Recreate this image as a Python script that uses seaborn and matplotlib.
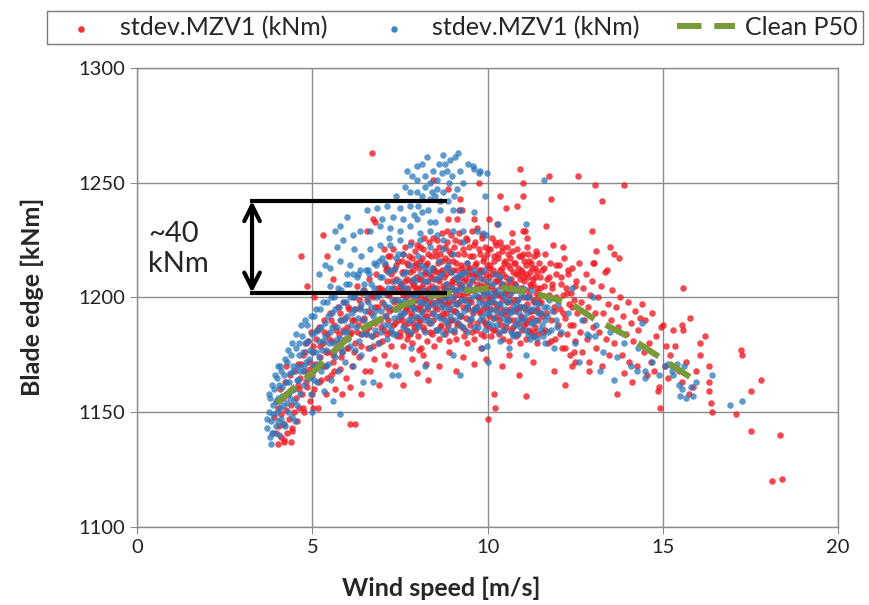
import numpy as np
import pandas as pd
import matplotlib
matplotlib.use('Agg')
import matplotlib.pyplot as plt
import seaborn as sns

# wind speed [m/s], blade edge [kNm]
red_low = [(3.92,1148),(3.95,1141),(3.98,1155),(4.02,1152),(4.05,1144),(4.08,1160),(4.1,1139),(4.12,1149),
           (4.15,1156),(4.18,1137),(4.2,1145),(4.22,1163),(4.25,1151),(4.28,1141),(4.3,1158),(4.33,1147),
           (4.36,1166),(4.38,1153),(4.41,1143),(4.44,1160),(4.47,1150),(4.5,1168),(4.52,1156),(4.55,1146),
           (4.58,1162),(4.6,1171),(4.03,1136),(4.26,1170),(4.4,1137),(4.62,1152),(4.42,1142),(4.2,1138)]

red_rise = [(4.65,1165),(4.7,1158),(4.73,1175),(4.76,1150),(4.8,1168),(4.83,1180),(4.86,1161),(4.9,1172),
            (4.93,1155),(4.96,1185),(5.0,1166),(5.03,1176),(5.06,1160),(5.1,1182),(5.13,1170),(5.16,1152),
            (5.2,1187),(5.23,1174),(5.26,1164),(5.3,1180),(5.33,1190),(5.36,1170),(5.4,1158),(5.43,1184),
            (5.46,1176),(5.5,1193),(5.53,1166),(5.56,1181),(5.6,1172),(5.63,1188),(5.66,1160),(5.7,1178),
            (5.73,1196),(5.76,1184),(5.8,1169),(5.83,1190),(5.86,1176),(5.9,1198),(5.93,1182),(5.96,1165),
            (6.0,1187),(6.03,1178),(6.06,1195),(6.1,1185),(6.13,1170),(6.16,1200),(6.2,1190),(6.23,1180),
            (6.26,1205),(6.3,1188),(6.33,1174),(6.36,1196),(6.4,1184),(6.43,1202),(6.46,1191),(6.5,1168),
            (6.53,1186),(6.56,1199),(6.6,1178),(6.63,1208),(6.66,1193),(6.7,1183),(6.73,1200),(6.76,1173),
            (6.8,1189),(6.83,1210),(6.86,1196),(6.9,1180),(6.93,1204),(6.96,1187),(7.0,1198),(7.03,1175),
            (7.06,1192),(7.1,1212),(7.13,1184),(7.16,1201),(7.2,1194),(7.23,1179),(7.26,1207),(7.3,1188),
            (7.33,1198),(7.36,1170),(7.4,1214),(7.43,1190),(7.46,1203),(7.5,1183),
            (4.62,1160),(4.67,1171),(4.72,1152),(4.78,1176),(4.82,1163),(4.88,1181),(4.92,1169),(4.98,1158),
            (5.02,1179),(5.08,1171),(5.12,1186),(5.18,1163),(5.22,1179),(5.28,1170),(5.32,1185),(5.38,1176),
            (5.42,1165),(5.48,1182),(5.52,1190),(5.58,1175),(5.62,1168),(5.68,1186),(5.72,1180),(5.78,1193),
            (5.82,1174),(5.88,1186),(5.92,1191),(5.98,1178),(6.02,1196),(6.08,1184),(6.12,1190),(6.18,1176),
            (6.22,1195),(6.28,1185),(6.32,1199),(6.38,1179),(6.42,1190),(6.48,1203),(6.52,1184),(6.58,1194),
            (6.62,1187),(6.68,1201),(6.72,1179),(6.78,1196),(6.82,1184),(6.88,1204),(6.92,1190),(6.98,1181)]

red_core = [(7.51,1185),(7.52,1206),(7.54,1197),(7.55,1216),(7.57,1190),(7.58,1179),(7.6,1203),(7.61,1211),
            (7.63,1194),(7.64,1222),(7.66,1186),(7.67,1200),(7.69,1208),(7.7,1182),(7.71,1195),(7.72,1214),
            (7.73,1189),(7.74,1204),(7.76,1197),(7.77,1218),(7.78,1184),(7.8,1207),(7.81,1192),(7.82,1224),
            (7.84,1201),(7.85,1180),(7.86,1212),(7.88,1189),(7.89,1205),(7.9,1196),(7.92,1220),(7.93,1186),
            (7.95,1209),(7.96,1199),(7.97,1215),(7.99,1191),(8.01,1204),(8.02,1183),(8.03,1213),(8.05,1196),
            (8.06,1222),(8.07,1190),(8.09,1208),(8.1,1200),(8.11,1178),(8.13,1217),(8.14,1194),(8.16,1206),
            (8.17,1187),(8.18,1226),(8.2,1199),(8.21,1211),(8.22,1192),(8.24,1203),(8.26,1215),(8.27,1195),
            (8.28,1181),(8.3,1207),(8.31,1200),(8.33,1224),(8.34,1189),(8.35,1210),(8.37,1197),(8.38,1218),
            (8.4,1184),(8.41,1205),(8.42,1193),(8.44,1213),(8.45,1201),(8.46,1179),(8.48,1208),(8.49,1220),
            (8.51,1196),(8.52,1211),(8.54,1186),(8.55,1204),(8.56,1225),(8.58,1199),(8.59,1215),(8.6,1182),
            (8.62,1207),(8.63,1192),(8.65,1219),(8.66,1202),(8.67,1188),(8.69,1212),(8.7,1197),(8.71,1228),
            (8.73,1205),(8.74,1191),(8.76,1209),(8.77,1184),(8.79,1217),(8.8,1200),(8.81,1193),(8.83,1224),
            (8.84,1206),(8.86,1188),(8.87,1213),(8.88,1198),(8.9,1181),(8.91,1220),(8.92,1203),(8.94,1195),
            (8.95,1211),(8.96,1227),(8.98,1190),(8.99,1207),(9.01,1199),(9.02,1216),(9.04,1185),(9.05,1208),
            (9.06,1194),(9.08,1225),(9.09,1203),(9.1,1182),(9.12,1212),(9.13,1197),(9.15,1219),(9.16,1189),
            (9.17,1206),(9.19,1228),(9.2,1201),(9.21,1192),(9.23,1214),(9.24,1209),(9.26,1187),(9.27,1204),
            (9.29,1221),(9.3,1196),(9.31,1211),(9.33,1183),(9.34,1207),(9.35,1199),(9.37,1226),(9.38,1191),
            (9.4,1215),(9.41,1202),(9.42,1180),(9.44,1210),(9.45,1195),(9.46,1222),(9.48,1205),(9.49,1188),
            (9.51,1213),(9.52,1198),(9.54,1229),(9.55,1185),(9.56,1207),(9.58,1193),(9.59,1218),(9.6,1203),
            (9.62,1182),(9.63,1224),(9.65,1210),(9.66,1196),(9.67,1215),(9.69,1189),(9.7,1206),(9.71,1230),
            (9.73,1200),(9.74,1212),(9.76,1194),(9.77,1219),(9.79,1205),(9.8,1184),(9.81,1211),(9.83,1199),
            (9.84,1226),(9.86,1190),(9.87,1208),(9.88,1216),(9.9,1202),(9.91,1183),(9.92,1222),(9.94,1196),
            (9.95,1210),(9.96,1188),(9.98,1204),(9.99,1214),(10.01,1200),(10.02,1221),(10.04,1187),(10.05,1209),
            (10.06,1195),(10.08,1214),(10.09,1183),(10.1,1205),(10.12,1226),(10.13,1198),(10.15,1191),(10.16,1212),
            (10.17,1203),(10.19,1218),(10.2,1186),(10.21,1207),(10.23,1197),(10.24,1223),(10.26,1210),(10.27,1192),
            (10.29,1217),(10.3,1201),(10.31,1184),(10.33,1208),(10.34,1224),(10.35,1196),(10.37,1205),(10.38,1188),
            (10.4,1213),(10.41,1199),(10.42,1220),(10.44,1182),(10.45,1206),(10.46,1194),(10.48,1215),(10.49,1202),
            (10.51,1187),(10.52,1209),(10.54,1198),(10.55,1222),(10.56,1192),(10.58,1205),(10.59,1214),(10.6,1181),
            (10.62,1201),(10.63,1217),(10.65,1195),(10.66,1208),(10.67,1186),(10.69,1224),(10.7,1203),(10.71,1190),
            (10.73,1211),(10.74,1199),(10.76,1215),(10.77,1194),(10.79,1206),(10.8,1183),(10.81,1210),(10.83,1199),
            (10.84,1221),(10.86,1189),(10.87,1203),(10.88,1213),(10.9,1196),(10.91,1180),(10.92,1208),(10.94,1218),
            (10.95,1192),(10.96,1204),(10.98,1186),(10.99,1211),(11.01,1200),(11.02,1219),(11.04,1188),(11.05,1207),
            (11.06,1195),(11.08,1214),(11.09,1182),(11.1,1203),(11.12,1222),(11.13,1197),(11.15,1209),(11.16,1190),
            (11.17,1216),(11.19,1201),(11.2,1185),(11.21,1211),(11.23,1194),(11.24,1205),(11.26,1213),(11.27,1191),
            (11.29,1206),(11.3,1183),(11.31,1218),(11.33,1198),(11.34,1209),(11.35,1187),(11.37,1202),(11.38,1220),
            (11.4,1195),(11.41,1180),(11.42,1211),(11.44,1200),(11.45,1190),(11.46,1215),(11.48,1204),(11.49,1193)]

red_core2 = [(7.02,1203),(7.05,1186),(7.07,1214),(7.1,1196),(7.12,1207),(7.15,1190),(7.17,1218),(7.2,1201),
             (7.22,1185),(7.25,1210),(7.27,1195),(7.3,1221),(7.32,1204),(7.35,1189),(7.37,1199),(7.4,1208),
             (7.42,1183),(7.45,1216),(7.47,1196),(7.5,1205),(7.53,1192),(7.55,1211),(7.58,1201),(7.6,1219),
             (7.62,1188),(7.65,1207),(7.68,1196),(7.7,1215),(7.73,1184),(7.75,1202),(7.78,1211),(7.8,1193),
             (7.83,1217),(7.85,1198),(7.87,1206),(7.9,1187),(7.93,1214),(7.95,1203),(7.98,1223),(8.0,1195),
             (8.03,1208),(8.05,1189),(8.08,1216),(8.1,1204),(8.12,1197),(8.15,1221),(8.18,1186),(8.2,1210),
             (8.23,1199),(8.25,1214),(8.28,1192),(8.3,1219),(8.33,1204),(8.35,1185),(8.38,1209),(8.4,1198),
             (8.43,1226),(8.45,1190),(8.47,1212),(8.5,1203),(8.53,1218),(8.55,1195),(8.58,1208),(8.6,1222),
             (8.63,1187),(8.65,1211),(8.68,1199),(8.7,1216),(8.72,1193),(8.75,1204),(8.78,1222),(8.8,1186),
             (8.82,1210),(8.85,1197),(8.88,1216),(8.9,1203),(8.93,1190),(8.95,1219),(8.97,1206),(9.0,1212),
             (9.03,1194),(9.05,1222),(9.08,1201),(9.1,1215),(9.12,1188),(9.15,1209),(9.18,1198),(9.2,1224),
             (9.23,1205),(9.25,1192),(9.28,1213),(9.3,1201),(9.32,1219),(9.35,1186),(9.38,1208),(9.4,1196),
             (9.42,1225),(9.45,1213),(9.47,1199),(9.5,1218),(9.53,1190),(9.55,1210),(9.58,1203),(9.6,1223),
             (9.62,1195),(9.65,1214),(9.68,1186),(9.7,1209),(9.72,1200),(9.75,1221),(9.78,1193),(9.8,1212),
             (9.82,1205),(9.85,1227),(9.88,1195),(9.9,1217),(9.93,1189),(9.95,1206),(9.97,1219),(10.0,1198),
             (10.03,1213),(10.05,1192),(10.08,1221),(10.1,1200),(10.12,1210),(10.15,1186),(10.18,1216),(10.2,1202),
             (10.22,1224),(10.25,1195),(10.28,1207),(10.3,1219),(10.32,1190),(10.35,1212),(10.38,1201),(10.4,1222),
             (10.42,1193),(10.45,1210),(10.47,1186),(10.5,1216),(10.53,1203),(10.55,1194),(10.58,1219),(10.6,1207),
             (10.62,1190),(10.65,1213),(10.68,1198),(10.7,1220),(10.72,1187),(10.75,1206),(10.78,1215),(10.8,1195),
             (10.82,1203),(10.85,1184),(10.88,1210),(10.9,1218),(10.93,1196),(10.95,1212),(10.97,1191),(11.0,1209),
             (11.03,1196),(11.05,1216),(11.08,1189),(11.1,1210),(11.12,1200),(11.15,1219),(11.18,1186),(11.2,1206),
             (11.22,1194),(11.25,1215),(11.28,1199),(11.3,1208),(11.32,1185),(11.35,1213),(11.38,1194),(11.4,1204),
             (11.42,1219),(11.45,1184),(11.47,1198),(11.5,1209),(11.55,1192),(11.6,1213),(11.65,1186),(11.7,1200),
             (11.75,1209),(11.8,1181),(11.85,1206),(11.9,1194),(11.95,1214),(12.0,1199),(12.05,1184),(12.1,1209),
             (12.15,1193),(12.2,1178),(12.25,1202),(12.3,1212),(12.35,1188),(12.4,1196),(12.45,1176),(12.5,1205)]

red_fall = [(11.52,1198),(11.55,1212),(11.58,1185),(11.6,1205),(11.63,1219),(11.66,1193),(11.7,1208),(11.72,1180),
            (11.75,1201),(11.78,1215),(11.8,1190),(11.83,1204),(11.86,1223),(11.88,1196),(11.91,1182),(11.94,1210),
            (11.96,1200),(12.0,1188),(12.03,1214),(12.06,1195),(12.08,1206),(12.11,1178),(12.14,1201),(12.17,1217),
            (12.2,1191),(12.23,1204),(12.26,1184),(12.29,1210),(12.32,1197),(12.35,1175),(12.38,1202),(12.41,1213),
            (12.44,1188),(12.47,1199),(12.5,1181),(12.53,1207),(12.56,1193),(12.6,1215),(12.63,1185),(12.66,1198),
            (12.7,1176),(12.73,1204),(12.76,1190),(12.8,1210),(12.83,1182),(12.86,1196),(12.9,1172),(12.93,1201),
            (12.97,1207),(13.0,1187),(13.04,1215),(13.07,1193),(13.1,1178),(13.14,1200),(13.18,1185),(13.22,1205),
            (13.26,1170),(13.3,1193),(13.34,1211),(13.38,1182),(13.42,1197),(13.46,1175),(13.52,1190),(13.56,1203),
            (13.6,1180),(13.65,1196),(13.7,1158),(13.73,1187),(13.78,1200),(13.82,1175),(13.86,1192),(13.9,1167),
            (13.95,1184),(14.0,1198),(14.04,1172),(14.08,1189),(14.12,1163),(14.16,1181),(14.2,1194),(14.25,1170),
            (14.3,1186),(14.35,1191),(14.4,1197),(14.45,1176),(14.5,1190),(14.55,1166),(14.6,1180),(14.65,1172),
            (14.7,1193),(14.75,1168),(14.8,1183),(14.86,1159),(14.9,1161),(14.92,1152),(14.95,1187),(15.0,1188),
            (15.05,1170),(15.1,1179),(15.15,1165),(15.2,1175),(15.3,1186),(15.35,1179),(15.45,1168),(15.54,1163),
            (15.55,1188),(15.57,1186),(15.57,1204),(15.65,1172),(15.73,1158),(15.76,1191),(15.87,1161),(15.95,1168),
            (16.06,1180),(16.07,1175),(16.2,1183),(16.3,1170),(16.3,1159),(16.32,1163),(16.37,1154),(16.4,1150),
            (17.23,1177),(17.25,1175),(17.8,1164),(17.5,1159),(17.07,1149),(17.5,1142),(18.35,1140),(18.1,1120),
            (18.4,1121)]

red_scatter = [(4.68,1218),(5.3,1227),(5.41,1218),(4.84,1205),(5.05,1200),(5.6,1208),(6.08,1145),(6.22,1145),
               (5.03,1152),(5.84,1158),(6.08,1161),(6.65,1168),(7.17,1171),(7.6,1162),(7.98,1167),(8.31,1164),
               (8.24,1171),(8.15,1175),(7.84,1173),(6.7,1263),(6.72,1234),(6.8,1233),(6.55,1229),(7.05,1221),
               (7.22,1218),(7.12,1213),(7.34,1212),(6.4,1158),(6.9,1162),(8.6,1170),(8.9,1176),(9.1,1168),
               (9.3,1174),(9.6,1171),(9.94,1173),(10.17,1158),(10.2,1152),(10.0,1147),(10.4,1170),(10.9,1166),
               (11.1,1157),(11.3,1172),(8.05,1177),(9.8,1178),(10.6,1175),(8.45,1251),(8.88,1247),(9.2,1243),
               (9.17,1238),(9.12,1234),(8.88,1234),(8.83,1229),(9.74,1250),(10.93,1256),(11.0,1250),(10.34,1244),
               (10.53,1239),(10.83,1240),(11.0,1244),(9.6,1234),(10.03,1234),(10.26,1232),(10.7,1228),(11.07,1229),
               (9.26,1238),(11.76,1253),(11.8,1243),(11.66,1231),(11.12,1226),(11.02,1229),(12.16,1222),(12.58,1253),
               (13.07,1249),(13.26,1242),(13.9,1249),(12.97,1229),(13.1,1220),(13.5,1222),(13.6,1219),(13.75,1217),
               (13.0,1215),(13.4,1212),(12.4,1170),(12.5,1172),(12.9,1168),(11.9,1168),(12.2,1162)]

blue_low = [(3.7,1143),(3.75,1150),(3.78,1139),(3.8,1156),(3.83,1146),(3.86,1141),(3.89,1153),(3.92,1160),
            (3.95,1144),(3.98,1150),(4.0,1165),(4.03,1156),(4.05,1140),(4.08,1170),(4.1,1147),(4.13,1161),
            (4.16,1153),(4.19,1166),(4.22,1144),(4.25,1158),(4.28,1172),(4.31,1150),(4.34,1163),(4.37,1156),
            (4.4,1175),(4.43,1148),(4.46,1168),(4.49,1160),(4.52,1178),(4.55,1153),(4.58,1170),(4.6,1164),
            (3.89,1141),(4.03,1170),(4.5,1146),
            (3.72,1147),(3.77,1158),(3.81,1136),(3.85,1162),(3.88,1149),(3.93,1166),(3.96,1155),(4.01,1146),
            (4.04,1162),(4.07,1152),(4.11,1168),(4.14,1157),(4.17,1145),(4.21,1173),(4.24,1163),(4.27,1154),
            (4.32,1177),(4.35,1167),(4.38,1159),(4.42,1180),(4.45,1170),(4.48,1155),(4.53,1184),(4.56,1164)]

blue_rise = [(4.63,1175),(4.66,1158),(4.7,1183),(4.73,1168),(4.76,1162),(4.8,1180),(4.83,1172),(4.86,1188),
             (4.9,1165),(4.93,1177),(4.96,1158),(5.0,1184),(5.03,1170),(5.06,1192),(5.1,1176),(5.13,1163),
             (5.16,1186),(5.2,1174),(5.23,1195),(5.26,1168),(5.3,1181),(5.33,1159),(5.36,1189),(5.4,1177),
             (5.43,1198),(5.46,1171),(5.5,1185),(5.53,1164),(5.56,1193),(5.6,1180),(5.63,1200),(5.66,1174),
             (5.7,1187),(5.73,1168),(5.76,1196),(5.8,1182),(5.83,1203),(5.86,1176),(5.9,1190),(5.93,1172),
             (5.96,1198),(6.0,1185),(6.04,1206),(6.08,1179),(6.12,1193),(6.16,1170),(6.2,1200),(6.24,1187),
             (6.28,1209),(6.32,1181),(6.36,1195),(6.4,1175),(6.44,1203),(6.48,1190),(6.52,1212),(6.56,1184),
             (6.6,1198),(6.64,1178),(6.68,1206),(6.72,1192),(6.76,1215),(6.8,1186),(6.84,1200),(6.88,1180),
             (6.92,1209),(6.96,1194),(7.0,1217),(7.04,1188),(7.08,1202),(7.12,1182),(7.16,1211),(7.2,1196),
             (7.24,1186),(7.28,1204),(7.32,1191),(7.36,1213),(7.4,1184),(7.44,1199),(7.48,1207),
             (5.79,1149),(5.6,1155),(6.45,1163),(6.74,1163),(7.27,1166),(7.45,1166),(5.0,1150),
             (4.61,1180),(4.64,1168),(4.68,1188),(4.72,1176),(4.75,1170),(4.79,1190),(4.84,1165),(4.87,1181),
             (4.91,1173),(4.95,1192),(4.99,1176),(5.04,1164),(5.07,1185),(5.11,1195),(5.15,1171),(5.19,1181),
             (5.24,1187),(5.27,1177),(5.31,1198),(5.35,1183),(5.39,1170),(5.44,1192),(5.48,1180),(5.52,1200),
             (5.57,1187),(5.61,1176),(5.65,1195),(5.69,1182),(5.74,1204),(5.78,1190),(5.82,1178),(5.87,1198),
             (5.91,1185),(5.95,1206),(5.99,1192),(6.03,1182),(6.07,1200),(6.11,1188),(6.15,1210),(6.19,1195),
             (6.23,1177),(6.27,1202),(6.31,1191),(6.35,1212),(6.39,1197),(6.43,1184),(6.47,1206),(6.51,1194),
             (6.55,1201),(6.59,1188),(6.63,1210),(6.67,1196),(6.71,1183),(6.75,1204),(6.79,1194),(6.83,1214),
             (6.87,1190),(6.91,1201),(6.95,1185),(6.99,1209),(7.03,1197),(7.07,1215),(7.11,1192),(7.15,1204),
             (7.19,1188),(7.23,1212),(7.27,1199),(7.31,1184),(7.35,1207),(7.39,1195),(7.43,1219),(7.47,1192)]

blue_upper = [(9.15,1263),(9.07,1261),(8.93,1260),(8.74,1262),(8.79,1258),(8.84,1255),(8.27,1261),(8.12,1258),
              (7.98,1257),(7.69,1255),(7.84,1253),(7.98,1251),(8.21,1253),(8.36,1250),(8.55,1251),(8.69,1254),
              (9.22,1255),(9.12,1247),(8.98,1253),(9.6,1256),(9.98,1254),(9.74,1254),(8.41,1246),(8.55,1247),
              (8.74,1246),(8.5,1244),(8.36,1243),(8.64,1242),(8.88,1242),(9.02,1238),(9.22,1238),(8.64,1238),
              (8.12,1244),(7.98,1246),(7.79,1246),(7.5,1239),(7.79,1240),(8.12,1237),(8.36,1233),(7.98,1234),
              (7.6,1234),(7.31,1235),(7.12,1240),(6.84,1239),(6.55,1238),(5.98,1235),(5.79,1231),(5.65,1229),
              (5.88,1225),(6.17,1227),(6.36,1229),(6.65,1229),(6.93,1231),(7.22,1230),(7.5,1229),(7.79,1231),
              (8.07,1228),(8.36,1229),(8.55,1227),(8.74,1225),(9.02,1229),(9.31,1229),(5.36,1214),(5.5,1213),
              (5.79,1216),(6.08,1214),(6.4,1218),(6.65,1221),(6.93,1223),(7.22,1223),(7.5,1225),(7.79,1223),
              (8.07,1225),(8.36,1222),(8.74,1221),(9.31,1224),(9.69,1229),(9.88,1228),(7.4,1244),(7.65,1248),
              (8.0,1240),(8.2,1248),(8.45,1255),(8.6,1258),(8.9,1250),(9.05,1244),(9.3,1250),(9.45,1258),
              (8.3,1238),(8.5,1233),(7.9,1236),(7.2,1226),(6.9,1216),(6.2,1221),(6.0,1210),(5.5,1205),
              (5.2,1210),(5.7,1222),(7.0,1234),(7.6,1219),(8.0,1218),(8.6,1216),(9.0,1219),(9.4,1215),
              (9.2,1210),(8.8,1213),(8.2,1213),(7.4,1217),(6.6,1212),(6.3,1210),(9.6,1237),(9.93,1244),
              (9.58,1257),(9.77,1255),(11.62,1251),(10.3,1232),(11.1,1232),(9.96,1227)]

blue_core = [(7.52,1193),(7.56,1205),(7.6,1187),(7.64,1199),(7.68,1211),(7.72,1190),(7.76,1202),(7.8,1185),
             (7.84,1196),(7.88,1208),(7.92,1192),(7.96,1201),(8.0,1187),(8.04,1198),(8.08,1210),(8.12,1194),
             (8.16,1203),(8.2,1185),(8.24,1197),(8.28,1207),(8.32,1190),(8.36,1200),(8.4,1213),(8.44,1193),
             (8.48,1204),(8.52,1186),(8.56,1198),(8.6,1209),(8.64,1191),(8.68,1202),(8.72,1184),(8.76,1196),
             (8.8,1206),(8.84,1189),(8.88,1200),(8.92,1192),(8.96,1211),(9.0,1197),(9.04,1186),(9.08,1203),
             (9.12,1193),(9.16,1207),(9.2,1188),(9.24,1199),(9.28,1210),(9.32,1194),(9.36,1203),(9.4,1185),
             (9.44,1197),(9.48,1206),(9.52,1191),(9.56,1200),(9.6,1212),(9.64,1195),(9.68,1204),(9.72,1187),
             (9.76,1198),(9.8,1208),(9.84,1192),(9.88,1201),(9.92,1186),(9.96,1197),(10.0,1207),(10.04,1193),
             (10.08,1202),(10.12,1188),(10.16,1199),(10.2,1210),(10.24,1194),(10.28,1203),(10.32,1185),(10.36,1197),
             (10.4,1206),(10.44,1191),(10.48,1200),(10.52,1189),(10.56,1198),(10.6,1208),(10.64,1193),(10.68,1202),
             (10.72,1184),(10.76,1196),(10.8,1205),(10.84,1190),(10.88,1199),(10.92,1187),(10.96,1196),(11.0,1204),
             (11.05,1191),(11.1,1200),(11.15,1184),(11.2,1195),(11.25,1203),(11.3,1189),(11.35,1198),(11.4,1182),
             (11.45,1193),(11.5,1201),(11.55,1188),(11.6,1196),(11.65,1180),(11.7,1192),(11.75,1199),(11.8,1186),
             (11.85,1194),(11.9,1178),(11.95,1190),(12.0,1197),(8.2,1170),(9.0,1175),(9.2,1166),(9.85,1178),
             (7.8,1178),(10.6,1178),(11.1,1175),(13.07,1183),(12.83,1184),(11.97,1187),(11.2,1182),(10.73,1183),
             (10.36,1181),(9.98,1179),(10.0,1172),
             (7.54,1198),(7.58,1210),(7.62,1193),(7.66,1204),(7.7,1186),(7.74,1197),(7.78,1214),(7.82,1190),
             (7.86,1201),(7.9,1195),(7.94,1207),(7.98,1188),(8.02,1202),(8.06,1192),(8.1,1214),(8.14,1198),
             (8.18,1207),(8.22,1190),(8.26,1201),(8.3,1196),(8.34,1211),(8.38,1189),(8.42,1203),(8.46,1197),
             (8.5,1208),(8.54,1192),(8.58,1202),(8.62,1186),(8.66,1196),(8.7,1210),(8.74,1199),(8.78,1190),
             (8.82,1203),(8.86,1214),(8.9,1195),(8.94,1186),(8.98,1204),(9.02,1200),(9.06,1190),(9.1,1209),
             (9.14,1197),(9.18,1203),(9.22,1192),(9.26,1205),(9.3,1187),(9.34,1199),(9.38,1211),(9.42,1196),
             (9.46,1190),(9.5,1203),(9.54,1208),(9.58,1194),(9.62,1187),(9.66,1201),(9.7,1196),(9.74,1210),
             (9.78,1190),(9.82,1203),(9.86,1197),(9.9,1212),(9.94,1193),(9.98,1202),(10.02,1189),(10.06,1198),
             (10.1,1195),(10.14,1206),(10.18,1191),(10.22,1201),(10.26,1188),(10.3,1197),(10.34,1209),(10.38,1193),
             (10.42,1202),(10.46,1186),(10.5,1195),(10.54,1204),(10.58,1190),(10.62,1199),(10.66,1185),(10.7,1194),
             (10.74,1203),(10.78,1188),(10.82,1197),(10.86,1184),(10.9,1193),(10.94,1201),(10.98,1190),(11.03,1196),
             (11.08,1186),(11.13,1193),(11.18,1200),(11.23,1189),(11.28,1195),(11.33,1183),(11.38,1190),(11.43,1197),
             (11.48,1186),(11.53,1193),(11.58,1183),(11.63,1190),(11.68,1196),(11.73,1185)]

blue_fall = [(12.1,1185),(12.3,1193),(12.5,1180),(12.7,1190),(12.9,1183),(13.1,1188),(13.3,1176),(13.5,1185),
             (13.7,1174),(13.9,1180),(14.1,1170),(14.3,1178),(14.5,1168),(14.7,1172),(14.9,1166),(15.05,1170),
             (15.15,1171),(15.25,1168),(15.3,1166),(15.45,1162),(15.55,1160),(15.65,1156),(15.8,1161),(15.93,1163),
             (13.2,1168),(12.6,1172),(14.4,1189),(13.0,1200),(12.4,1204),(16.92,1153),(17.25,1155),(16.4,1166),
             (15.5,1157),(15.85,1157),(15.26,1170),(15.4,1171),(15.6,1170),(14.26,1168),(14.5,1165),(13.6,1164)]

p50_wind = [4.0, 4.5, 5.0, 5.5, 6.0, 6.5, 7.0, 7.5, 8.0, 8.5, 9.0, 9.5, 10.0, 10.5, 11.0, 11.5,
            12.0, 12.5, 13.0, 13.5, 14.0, 14.5, 15.0, 15.5, 16.0]
p50_edge = [1154, 1161, 1167, 1175, 1182, 1187, 1191, 1196, 1199, 1201, 1202, 1203, 1204, 1204, 1203, 1201,
            1199, 1196, 1191, 1187, 1183, 1178, 1173, 1168, 1163]

# the "~40 kNm" marker
gap_top, gap_bottom = 1242, 1202
gap_x0, gap_x1 = 3.22, 8.84

red = pd.DataFrame(red_low + red_rise + red_core + red_core2 + red_fall + red_scatter, columns=['wind', 'edge'])
blue = pd.DataFrame(blue_low + blue_rise + blue_upper + blue_core + blue_fall, columns=['wind', 'edge'])

sns.set_style('ticks')
plt.rcParams['font.family'] = ['Lato', 'DejaVu Sans']

fig = plt.figure(figsize=(8.7, 6.05), dpi=100)
ax = fig.add_axes([0.1575, 0.129, 0.806, 0.759])

sns.scatterplot(data=red, x='wind', y='edge', color='#f01c24', s=22, linewidth=0, alpha=0.8,
                ax=ax, label='stdev.MZV1 (kNm)', zorder=3)
sns.scatterplot(data=blue, x='wind', y='edge', color='#2a78bc', s=22, linewidth=0, alpha=0.75,
                ax=ax, label='stdev.MZV1 (kNm)', zorder=4)
sns.lineplot(x=p50_wind, y=p50_edge, color='#7a9a3a', lw=4.4, linestyle=(0, (4.0, 2.1)),
             ax=ax, label='Clean P50', zorder=5)

ax.set_xlim(0, 20)
ax.set_ylim(1100, 1300)
ax.set_xticks([0, 5, 10, 15, 20])
ax.set_yticks([1100, 1150, 1200, 1250, 1300])
ax.grid(True, color='#8c8c8c', lw=1)
ax.set_axisbelow(True)
for s in ax.spines.values():
    s.set_color('#8c8c8c')
    s.set_linewidth(1)
ax.tick_params(direction='out', length=5, color='#8c8c8c', labelsize=14.5, labelcolor='#222222')
ax.set_xlabel('Wind speed [m/s]', fontsize=18, fontweight='bold')
ax.set_ylabel('Blade edge [kNm]', fontsize=18, fontweight='bold')
ax.xaxis.set_label_coords(0.434, -0.108)
ax.yaxis.set_label_coords(-0.133, 0.502)

ax.plot([gap_x0, gap_x1], [gap_top, gap_top], color='black', lw=3, zorder=6, solid_capstyle='butt')
ax.plot([gap_x0, gap_x1], [gap_bottom, gap_bottom], color='black', lw=3, zorder=6, solid_capstyle='butt')
ax.annotate('', xy=(gap_x0 + 0.06, gap_top), xytext=(gap_x0 + 0.06, gap_bottom), zorder=6,
            arrowprops=dict(arrowstyle='<->', lw=3, color='black', mutation_scale=28, shrinkA=0, shrinkB=0))
ax.text(0.31, (gap_top + gap_bottom) / 2 - 1, '~40\nkNm', fontsize=21, va='center', ha='left', linespacing=1.2)

handles, labels = ax.get_legend_handles_labels()
ax.get_legend().remove()
leg = fig.legend(handles, labels, loc='center', bbox_to_anchor=(0.523, 1 - 27.5 / 605), ncol=3,
                 frameon=True, fancybox=False, edgecolor='#555555', fontsize=18, handlelength=2.3,
                 handletextpad=0.4, columnspacing=1.5, borderpad=0.2)
leg.get_frame().set_linewidth(1)
for h in leg.legend_handles[:2]:
    h.set_alpha(0.9)

fig.savefig('out.png', dpi=100)
